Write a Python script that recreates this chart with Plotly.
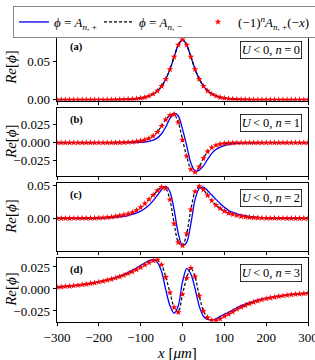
import plotly.graph_objects as go

# ---------------- data ----------------
x_um = list(range(-300, 301, 10))

# panel (a): U<0, n=0
phi_plus_n0 = [0, 0, 0, 0, 0, 0, 0, 0, 0, 0, 0, 0, 0, 0,
               0.0001, 0.0002, 0.0003, 0.0005, 0.0008, 0.0013, 0.0020, 0.0031,
               0.0049, 0.0075, 0.0116, 0.0178, 0.0270, 0.0399, 0.0563, 0.0721,
               0.0790,
               0.0722, 0.0566, 0.0403, 0.0274, 0.0181, 0.0118, 0.0076, 0.0050,
               0.0032, 0.0020, 0.0013, 0.0008, 0.0005, 0.0003, 0.0002, 0.0001,
               0, 0, 0, 0, 0, 0, 0, 0, 0, 0, 0, 0, 0, 0]
phi_minus_n0 = [0, 0, 0, 0, 0, 0, 0, 0, 0, 0, 0, 0, 0, 0,
                0.0001, 0.0002, 0.0003, 0.0005, 0.0008, 0.0013, 0.0020, 0.0031,
                0.0049, 0.0075, 0.0116, 0.0178, 0.0270, 0.0399, 0.0563, 0.0721,
                0.0790,
                0.0721, 0.0563, 0.0399, 0.0270, 0.0178, 0.0116, 0.0075, 0.0049,
                0.0031, 0.0020, 0.0013, 0.0008, 0.0005, 0.0003, 0.0002, 0.0001,
                0, 0, 0, 0, 0, 0, 0, 0, 0, 0, 0, 0, 0, 0]
star_n0 = phi_minus_n0

# panel (b): U<0, n=1
phi_plus_n1 = [0, 0, 0, 0, 0, 0, 0, 0, 0, 0, 0, 0, 0, 0, 0, 0, 0, 0,
               0.0001, 0.0003, 0.0005, 0.0010, 0.0019, 0.0036, 0.0068, 0.0126,
               0.0220, 0.0340, 0.0415, 0.0375,
               0.0190,
               -0.0040, -0.0285, -0.0398, -0.0385, -0.0325, -0.0235, -0.0150,
               -0.0095, -0.0062, -0.0040, -0.0027, -0.0017, -0.0010, -0.0006,
               -0.0004, -0.0002, -0.0001, 0, 0, 0, 0, 0, 0, 0, 0, 0, 0, 0, 0, 0]
phi_minus_n1 = [0, 0, 0, 0, 0, 0, 0, 0, 0, 0, 0, 0, 0, -0.0001, 0.0001, 0.0002,
                0.0004, 0.0006, 0.0010, 0.0017, 0.0027, 0.0040, 0.0062, 0.0095,
                0.0150, 0.0235, 0.0325, 0.0385, 0.0398, 0.0285, 0.0040,
                -0.0190,
                -0.0375, -0.0415, -0.0340, -0.0220, -0.0126, -0.0068, -0.0036,
                -0.0019, -0.0010, -0.0005, -0.0003, -0.0001, 0, 0, 0, 0, 0, 0,
                0, 0, 0, 0, 0, 0, 0, 0, 0, 0, 0]
star_n1 = phi_minus_n1

# panel (c): U<0, n=2
phi_plus_n2 = [0, 0, 0, 0, 0, 0, 0.0001, 0.0001, 0.0002, 0.0002, 0.0003,
               0.0005, 0.0007, 0.0010, 0.0015, 0.0022, 0.0030, 0.0042, 0.0058,
               0.0078, 0.0108, 0.0148, 0.0198, 0.0265, 0.0345, 0.0430, 0.0480,
               0.0400, 0.0130, -0.0230,
               -0.0410,
               -0.0360, -0.0080, 0.0280, 0.0450, 0.0468, 0.0415, 0.0350, 0.0285,
               0.0222, 0.0165, 0.0120, 0.0088, 0.0068, 0.0053, 0.0040, 0.0029,
               0.0020, 0.0014, 0.0009, 0.0006, 0.0004, 0.0003, 0.0002, 0.0002,
               0.0001, 0.0001, 0, 0, 0, 0]
phi_minus_n2 = [0, 0, 0, 0, 0.0001, 0.0001, 0.0002, 0.0002, 0.0003, 0.0004,
                0.0006, 0.0009, 0.0014, 0.0020, 0.0029, 0.0040, 0.0053, 0.0068,
                0.0088, 0.0120, 0.0165, 0.0222, 0.0285, 0.0350, 0.0415, 0.0468,
                0.0450, 0.0280, -0.0080, -0.0360,
                -0.0410,
                -0.0230, 0.0130, 0.0400, 0.0480, 0.0430, 0.0345, 0.0265, 0.0198,
                0.0148, 0.0108, 0.0078, 0.0058, 0.0042, 0.0030, 0.0022, 0.0015,
                0.0010, 0.0007, 0.0005, 0.0003, 0.0002, 0.0002, 0.0001, 0.0001,
                0, 0, 0, 0, 0, 0]
star_n2 = phi_minus_n2

# panel (d): U<0, n=3
phi_plus_n3 = [0.0022, 0.0026, 0.0030, 0.0034, 0.0039, 0.0044, 0.0050, 0.0057,
               0.0065, 0.0073, 0.0082, 0.0092, 0.0104, 0.0117, 0.0131, 0.0147,
               0.0165, 0.0187, 0.0211, 0.0238, 0.0268, 0.0295, 0.0322, 0.0333,
               0.0300, 0.0198, -0.0010, -0.0190, -0.0275, -0.0190,
               0.0080,
               0.0230, 0.0170, 0.0005, -0.0195, -0.0310, -0.0345, -0.0352,
               -0.0340, -0.0312, -0.0288, -0.0265, -0.0240, -0.0213, -0.0190,
               -0.0172, -0.0155, -0.0140, -0.0127, -0.0115, -0.0105, -0.0096,
               -0.0088, -0.0081, -0.0074, -0.0068, -0.0063, -0.0058, -0.0054,
               -0.0050, -0.0047]
phi_minus_n3 = [0.0021, 0.0024, 0.0028, 0.0032, 0.0037, 0.0042, 0.0048, 0.0055,
                0.0062, 0.0070, 0.0079, 0.0089, 0.0100, 0.0112, 0.0125, 0.0140,
                0.0157, 0.0176, 0.0197, 0.0220, 0.0245, 0.0273, 0.0300, 0.0322,
                0.0330, 0.0275, 0.0135, -0.0040, -0.0210, -0.0265,
                -0.0060,
                0.0125, 0.0238, 0.0140, -0.0079, -0.0250, -0.0325, -0.0355,
                -0.0360, -0.0340, -0.0310, -0.0285, -0.0260, -0.0230, -0.0208,
                -0.0186, -0.0167, -0.0150, -0.0135, -0.0122, -0.0111, -0.0101,
                -0.0092, -0.0084, -0.0077, -0.0071, -0.0065, -0.0060, -0.0056,
                -0.0052, -0.0049]
star_n3 = phi_minus_n3

panel_labels = ["(a)", "(b)", "(c)", "(d)"]
mode_n = [0, 1, 2, 3]
x_ticks = [-300, -200, -100, 0, 100, 200, 300]
y_ticks = [[0, 0.05], [-0.025, 0, 0.025], [0, 0.05], [-0.025, 0, 0.025]]
y_fmt = [".2f", ".3f", ".2f", ".3f"]
y_ranges = [[-0.0013, 0.0851], [-0.0463, 0.0483], [-0.0483, 0.0526], [-0.0372, 0.0352]]

plus_sets = [phi_plus_n0, phi_plus_n1, phi_plus_n2, phi_plus_n3]
minus_sets = [phi_minus_n0, phi_minus_n1, phi_minus_n2, phi_minus_n3]
star_sets = [star_n0, star_n1, star_n2, star_n3]

# ---------------- layout geometry (pixels) ----------------
W, H = 315, 360
L, R, T, B = 57, 7, 30, 0
PW, PH = W - L - R, H - T - B
rows_px = [(35, 100.7), (108.3, 175.7), (183.3, 250.5), (258, 321.7)]
FONT = "Liberation Serif"
TS = "\u2009"  # thin space


def fy(px):
    return (H - B - px) / PH


def fx(px):
    return (px - L) / PW


legend_names = ["<i>ϕ</i> = <i>A</i><sub><i>n</i>, +</sub>",
                "<i>ϕ</i> = <i>A</i><sub><i>n</i>, −</sub>",
                "(−1)<sup><i>n</i></sup><i>A</i><sub><i>n</i>, +</sub>(−<i>x</i>)"]
legend_widths = [40, 54, 76]

fig = go.Figure()
for i in range(4):
    xa = "x" if i == 0 else f"x{i+1}"
    ya = "y" if i == 0 else f"y{i+1}"
    show = (i == 0)
    fig.add_trace(go.Scatter(
        x=x_um, y=plus_sets[i], xaxis=xa, yaxis=ya, mode="lines",
        line=dict(color="#0000ff", width=1.3, shape="spline", smoothing=0.8),
        name=legend_names[0], showlegend=show, legendrank=1,
        legendwidth=legend_widths[0]))
    fig.add_trace(go.Scatter(
        x=x_um, y=minus_sets[i], xaxis=xa, yaxis=ya, mode="lines",
        line=dict(color="black", width=1.2, dash="3px,2px", shape="spline", smoothing=0.8),
        name=legend_names[1], showlegend=show, legendrank=2,
        legendwidth=legend_widths[1]))
    fig.add_trace(go.Scatter(
        x=x_um, y=star_sets[i], xaxis=xa, yaxis=ya, mode="markers",
        marker=dict(symbol="star", size=5, color="red", line=dict(width=0)),
        name=legend_names[2], showlegend=show, legendrank=3,
        legendwidth=legend_widths[2]))

layout = dict(
    width=W, height=H,
    margin=dict(l=L, r=R, t=T, b=B, autoexpand=False),
    paper_bgcolor="white", plot_bgcolor="white",
    font=dict(family=FONT, size=13, color="black"),
    legend=dict(
        orientation="h", xref="paper", yref="paper",
        x=fx(13), y=fy(6), xanchor="left", yanchor="top",
        bordercolor="#888888", borderwidth=1, bgcolor="white",
        font=dict(family=FONT, size=13), itemwidth=30, tracegroupgap=0),
    annotations=[],
)

for i in range(4):
    top, bot = rows_px[i]
    h = bot - top
    xk = "xaxis" if i == 0 else f"xaxis{i+1}"
    yk = "yaxis" if i == 0 else f"yaxis{i+1}"
    xa_ref = "x" if i == 0 else f"x{i+1}"
    ya_ref = "y" if i == 0 else f"y{i+1}"
    layout[xk] = dict(
        domain=[0, 1], anchor=ya_ref, range=[-300, 300],
        tickvals=x_ticks, showticklabels=(i == 3), ticklabeloverflow="allow",
        ticks="outside", ticklen=3.5, tickwidth=0.8, tickcolor="black",
        showline=True, linecolor="black", linewidth=0.9, mirror=True,
        showgrid=False, zeroline=False,
        tickfont=dict(family=FONT, size=13),
    )
    if i != 3:
        layout[xk]["matches"] = "x4"
    layout[yk] = dict(
        domain=[fy(bot), fy(top)], anchor=xa_ref, range=y_ranges[i],
        tickvals=y_ticks[i], tickformat=y_fmt[i],
        ticks="outside", ticklen=3.5, tickwidth=0.8, tickcolor="black",
        showline=True, linecolor="black", linewidth=0.9, mirror=True,
        showgrid=False, zeroline=False,
        tickfont=dict(family=FONT, size=13),
    )
    anns = layout["annotations"]
    anns.append(dict(
        text=f"<b>{panel_labels[i]}</b>", xref=f"{xa_ref} domain", yref=f"{ya_ref} domain",
        x=fx(68), y=1 - 12 / h, xanchor="left", yanchor="middle",
        showarrow=False, font=dict(family=FONT, size=10.5)))
    anns.append(dict(
        text=f"<i>U</i>{TS}&lt;{TS}0, <i>n</i>{TS}={TS}{mode_n[i]}",
        xref=f"{xa_ref} domain", yref=f"{ya_ref} domain",
        x=fx(302), y=1 - 15 / h, xanchor="right", yanchor="middle",
        showarrow=False, font=dict(family=FONT, size=12.5),
        bordercolor="black", borderwidth=0.8, borderpad=1, bgcolor="white"))
    anns.append(dict(
        text="<i>Re</i>[<i>ϕ</i>]", xref="paper", yref=f"{ya_ref} domain",
        x=fx(11), y=0.5, xanchor="center", yanchor="middle",
        textangle=-90, showarrow=False, font=dict(family=FONT, size=15)))

layout["annotations"].append(dict(
    text="<i>x</i> [<i>μm</i>]", xref="paper", yref="paper",
    x=fx(177), y=fy(352.5), xanchor="center", yanchor="middle",
    showarrow=False, font=dict(family=FONT, size=15)))

fig.update_layout(**layout)
fig.write_html(
    "out.html",
    config={"displayModeBar": False},
    post_script="document.body.style.margin='0';document.body.style.padding='0';",
)
